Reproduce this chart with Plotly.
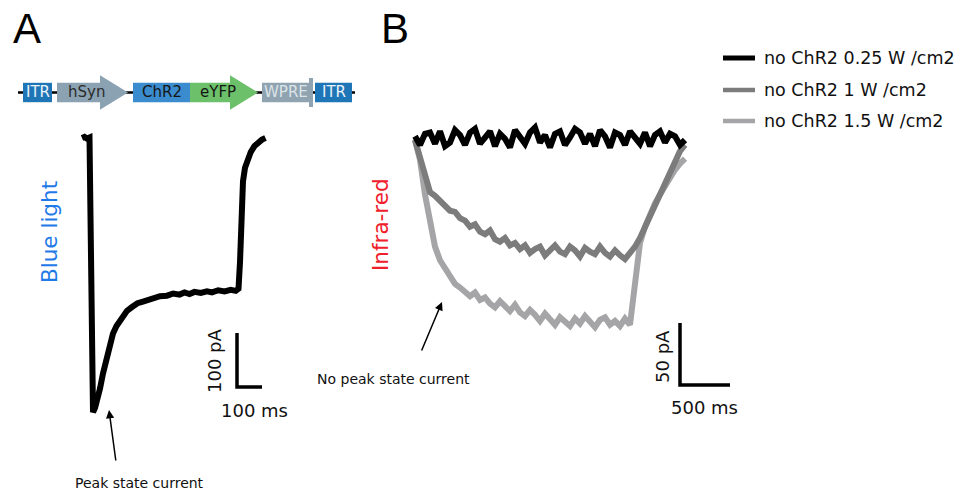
import plotly.graph_objects as go

# ---------------- data ----------------
# Panel A: ChR2 photocurrent under blue light (time in ms, current in pA)
blue_t = [0, 10, 20, 30, 34, 44, 52, 60, 72, 84, 98, 112, 124, 138, 152, 166, 180, 200, 222, 244,
          270, 290, 312, 340, 365, 390, 410, 430, 450, 475, 500, 520, 545, 570, 595, 615, 626, 632,
          638, 644, 652, 662, 675, 690, 705, 720, 734]
blue_i = [0, 2, -1, 1, -145, -508, -500, -488, -464, -436, -408, -383, -362, -348, -337, -328, -320,
          -313, -306, -303, -299, -297, -293, -292, -288, -290, -286, -289, -285, -287, -284, -286,
          -282, -284, -281, -283, -279, -230, -140, -80, -55, -38, -26, -15, -8, -3, 0]

# Panel B: no-ChR2 currents under infra-red light (time in ms, current in pA)
ir_t = list(range(0, 2701, 50))
ir_025 = [3, -4, 5, 6, -3, 7, -5, -2, 8, 4,
          -4, 6, 9, -3, 2, 7, -5, 5, 1, -6,
          8, 3, -3, 6, 10, -2, 4, -6, 5, 7,
          -4, 2, 9, 6, -3, 5, -5, 8, 3, -6,
          6, 4, -4, 7, 2, -3, 6, -5, 4, 7,
          -2, 5, 3, -4, 0]
ir_1 = [0, -14, -32, -42, -45, -49, -52, -57, -58, -63,
        -65, -70, -68, -74, -76, -73, -80, -82, -79, -85,
        -83, -88, -85, -91, -88, -86, -93, -89, -85, -90,
        -92, -86, -89, -94, -87, -90, -92, -86, -91, -94,
        -89, -93, -96, -91, -86, -79, -70, -61, -52, -44,
        -35, -26, -17, -9, -4]
ir_15 = [0, -16, -44, -68, -86, -97, -104, -111, -116, -119,
         -122, -126, -123, -129, -127, -132, -135, -130, -134, -138,
         -133, -139, -142, -137, -141, -146, -140, -145, -149, -143,
         -147, -150, -144, -148, -142, -147, -151, -145, -143, -149,
         -146, -150, -144, -149, -112, -83, -70, -60, -51, -44,
         -37, -30, -24, -19, -15]
ir_names = ["no ChR2 0.25 W /cm2", "no ChR2 1 W /cm2", "no ChR2 1.5 W /cm2"]

# Construct map (positions along the map in map units)
parts = ["ITR", "hSyn", "ChR2", "eYFP", "WPRE", "ITR"]
part_start = [23, 57, 133, 190, 262, 315]
part_end = [52, 128, 190, 258, 313, 352]
part_kind = ["box", "arrow", "box", "arrow", "wpre", "box"]
backbone = [18, 355]

# Scale bars
scale_a = (100, 100)   # ms, pA
scale_b = (500, 50)    # ms, pA

# ---------------- styles / layout helpers ----------------
W, H = 967, 494
FONT = "DejaVu Sans"


def PX(x):
    return x / W


def PY(y):
    return 1 - y / H


part_fill = ["#1f76b6", "#8aa2b2", "#3a8ccf", "#6cc06a", "#8fa3b1", "#1f76b6"]
part_text = ["#eaf2fa", "#2b2b2b", "#151515", "#151515", "#dde4e8", "#eaf2fa"]
ir_colors = ["#000000", "#7c7c7c", "#a5a5a7"]

fig = go.Figure()

# Panel B traces (light gray first so black stays on top)
for vals, col, name in [(ir_15, ir_colors[2], ir_names[2]),
                        (ir_1, ir_colors[1], ir_names[1]),
                        (ir_025, ir_colors[0], ir_names[0])]:
    fig.add_trace(go.Scatter(x=ir_t, y=vals, mode="lines", name=name,
                             line=dict(color=col, width=6), showlegend=False,
                             xaxis="x2", yaxis="y2", hoverinfo="skip"))

# Panel A trace
fig.add_trace(go.Scatter(x=blue_t, y=blue_i, mode="lines", name="ChR2 blue light",
                         line=dict(color="black", width=6), showlegend=False,
                         xaxis="x", yaxis="y", hoverinfo="skip"))

# Scale bars (in data units)
a_t0, a_i0 = 620, -461
fig.add_trace(go.Scatter(x=[a_t0, a_t0, a_t0 + scale_a[0]],
                         y=[a_i0 + scale_a[1], a_i0, a_i0],
                         mode="lines", line=dict(color="black", width=3.5),
                         showlegend=False, xaxis="x", yaxis="y", hoverinfo="skip"))
b_t0, b_i0 = 2650, -197.6
fig.add_trace(go.Scatter(x=[b_t0, b_t0, b_t0 + scale_b[0]],
                         y=[b_i0 + scale_b[1], b_i0, b_i0],
                         mode="lines", line=dict(color="black", width=3.5),
                         showlegend=False, xaxis="x2", yaxis="y2", hoverinfo="skip"))

# Construct map: backbone line
fig.add_trace(go.Scatter(x=backbone, y=[0, 0], mode="lines",
                         line=dict(color="black", width=2.5), showlegend=False,
                         xaxis="x3", yaxis="y3", hoverinfo="skip"))

shapes = []
annotations = []
BH = 9.7     # half height of body
AH = 17.3    # half height of arrow head
HEAD = 28
for name, s, e, kind, fc, tc in zip(parts, part_start, part_end, part_kind, part_fill, part_text):
    if kind == "box":
        shapes.append(dict(type="rect", xref="x3", yref="y3", x0=s, x1=e, y0=-BH, y1=BH,
                           fillcolor=fc, line=dict(width=0), layer="above"))
        cx = (s + e) / 2
    elif kind == "wpre":
        shapes.append(dict(type="rect", xref="x3", yref="y3", x0=s, x1=e - 4, y0=-BH, y1=BH,
                           fillcolor=fc, line=dict(width=0), layer="above"))
        shapes.append(dict(type="rect", xref="x3", yref="y3", x0=e - 4, x1=e, y0=-14.5, y1=14.5,
                           fillcolor=fc, line=dict(width=0), layer="above"))
        cx = (s + e) / 2 - 2
    else:
        h0 = e - HEAD
        path = (f"M {s},{-BH} L {h0},{-BH} L {h0},{-AH} L {e},0 L {h0},{AH} "
                f"L {h0},{BH} L {s},{BH} Z")
        shapes.append(dict(type="path", xref="x3", yref="y3", path=path,
                           fillcolor=fc, line=dict(width=0), layer="above"))
        cx = (s + e) / 2 - 6
    annotations.append(dict(x=cx, y=0, xref="x3", yref="y3", text=name, showarrow=False,
                            font=dict(family=FONT, size=15, color=tc),
                            xanchor="center", yanchor="middle"))

# Legend (manual)
leg_y = [58, 90, 121]
for col, name, ly, lw in zip(ir_colors, ir_names, leg_y, [5, 4.5, 4.5]):
    shapes.append(dict(type="line", xref="paper", yref="paper",
                       x0=PX(723), x1=PX(755), y0=PY(ly), y1=PY(ly),
                       line=dict(color=col, width=lw)))
    annotations.append(dict(x=PX(762), y=PY(ly), xref="paper", yref="paper", text=name,
                            showarrow=False, xanchor="left", yanchor="middle",
                            font=dict(family=FONT, size=17.5, color="#111111")))


def txt(x, y, text, size, color="#111111", angle=0, family=FONT):
    annotations.append(dict(x=PX(x), y=PY(y), xref="paper", yref="paper", text=text,
                            showarrow=False, xanchor="center", yanchor="middle",
                            textangle=angle, font=dict(family=family, size=size, color=color)))


txt(27, 29, "A", 42, "black", family="Liberation Sans")
txt(395, 29, "B", 42, "black", family="Liberation Sans")
txt(49, 232, "Blue light", 21.5, "#1f7ae8", angle=-90)
txt(380, 225, "Infra-red", 21.5, "#f0202a", angle=-90)
txt(214, 361, "100 pA", 18, angle=-90)
txt(254, 410, "100 ms", 18)
txt(662, 357, "50 pA", 18, angle=-90)
txt(704, 407, "500 ms", 18)
txt(139, 483, "Peak state current", 14)
txt(393, 379, "No peak state current", 14)

# arrows
for hx, hy, tx, ty in [(109, 410, 116, 462), (442, 302, 421, 352)]:
    annotations.append(dict(x=PX(hx), y=PY(hy), xref="paper", yref="paper", text="",
                            showarrow=True, ax=tx - hx, ay=ty - hy, axref="pixel", ayref="pixel",
                            arrowhead=2, arrowsize=1.1, arrowwidth=1.5, arrowcolor="black"))

# axes
ax_common = dict(visible=False, showgrid=False, zeroline=False, fixedrange=True)
fig.update_layout(
    width=W, height=H, margin=dict(l=0, r=0, t=0, b=0),
    paper_bgcolor="white", plot_bgcolor="white",
    xaxis=dict(domain=[PX(70), PX(290)], range=[(70 - 82) * 4, (290 - 82) * 4], **ax_common),
    yaxis=dict(domain=[PY(440), PY(120)], range=[-(440 - 138) / 0.54, (138 - 120) / 0.54],
               anchor="x", **ax_common),
    xaxis2=dict(domain=[PX(400), PX(760)], range=[(400 - 415) * 10, (760 - 415) * 10],
                anchor="y2", **ax_common),
    yaxis2=dict(domain=[PY(420), PY(110)], range=[-(420 - 140) / 1.24, (140 - 110) / 1.24],
                anchor="x2", **ax_common),
    xaxis3=dict(domain=[PX(0), PX(370)], range=[0, 370], anchor="y3", **ax_common),
    yaxis3=dict(domain=[PY(120), PY(65)], range=[-27.5, 27.5], anchor="x3", **ax_common),
    shapes=shapes, annotations=annotations, showlegend=False,
)

fig.write_html("out.html")
